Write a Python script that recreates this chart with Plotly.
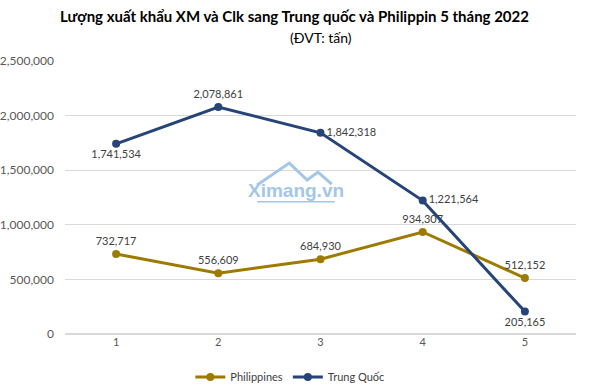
import plotly.graph_objects as go

categories = ["1", "2", "3", "4", "5"]
philippines = [732717, 556609, 684930, 934307, 512152]
trung_quoc = [1741534, 2078861, 1842318, 1221564, 205165]
y_ticks = [0, 500000, 1000000, 1500000, 2000000, 2500000]

FONT = "Lato"
C_PH = "#9E7B00"
C_TQ = "#264478"
WM = "#A4C6E8"

fig = go.Figure()
fig.add_trace(go.Scatter(
    x=categories, y=philippines, name="Philippines", mode="lines+markers+text",
    line=dict(color=C_PH, width=3), marker=dict(size=8, color=C_PH),
    text=[f"{v:,}" for v in philippines],
    textposition=["top center"] * 5,
    textfont=dict(family=FONT, size=11, color="#404040"),
))
fig.add_trace(go.Scatter(
    x=categories, y=trung_quoc, name="Trung Quốc", mode="lines+markers+text",
    line=dict(color=C_TQ, width=3), marker=dict(size=8, color=C_TQ),
    text=[f"{v:,}" for v in trung_quoc],
    textposition=["bottom center", "top center", "middle right", "middle right", "bottom center"],
    textfont=dict(family=FONT, size=11, color="#404040"),
))

fig.update_layout(
    width=589, height=389,
    margin=dict(l=65, r=13, t=61, b=55, autoexpand=False),
    paper_bgcolor="white", plot_bgcolor="white",
    font=dict(family=FONT, size=11, color="#595959"),
    title=dict(
        text="<b>Lượng xuất khẩu XM và Clk sang Trung quốc và Philippin 5 tháng 2022</b>",
        x=0.5, xanchor="center", xref="container", y=1 - 17 / 389, yref="container",
        yanchor="middle",
        font=dict(family=FONT, size=15, color="#000000"),
    ),
    showlegend=True,
    legend=dict(orientation="h", x=0.44, xanchor="center", y=1 - 377 / 389,
                yref="container", yanchor="middle",
                font=dict(family=FONT, size=11, color="#404040"), itemwidth=30,
                tracegroupgap=0),
    xaxis=dict(type="category", range=[-0.5, 4.5], showgrid=False, showline=False,
               ticks="", tickfont=dict(family=FONT, size=11, color="#595959"),
               zeroline=False),
    yaxis=dict(range=[0, 2500000], tickvals=y_ticks, tickformat=",d",
               showgrid=True, gridcolor="#D9D9D9", gridwidth=1, zeroline=True,
               zerolinecolor="#D9D9D9", showline=False, ticks="", ticklabelstandoff=10,
               tickfont=dict(family=FONT, size=12, color="#595959")),
)

fig.add_annotation(text="(ĐVT: tấn)", xref="paper", yref="paper", x=0.5,
                   y=(334 - 37) / 273, yanchor="middle", showarrow=False,
                   font=dict(family=FONT, size=14, color="#000000"))

# watermark
fig.add_annotation(text="<b>Ximang.vn</b>", xref="paper", yref="paper",
                   x=0.452, y=0.527, yanchor="middle", showarrow=False,
                   font=dict(family="Liberation Sans Narrow, Liberation Sans", size=19, color=WM))
fig.add_shape(type="path", xref="paper", yref="paper",
              path="M 0.376 0.546 L 0.439 0.626 L 0.474 0.564 L 0.495 0.593 L 0.522 0.549",
              line=dict(color=WM, width=3))
fig.add_shape(type="line", xref="paper", yref="paper",
              x0=0.376, x1=0.528, y0=0.484, y1=0.484, line=dict(color=WM, width=1.5))

fig.write_html("out.html", config={"displayModeBar": False},
               post_script="document.body.style.margin='0';document.body.style.overflow='hidden';")
